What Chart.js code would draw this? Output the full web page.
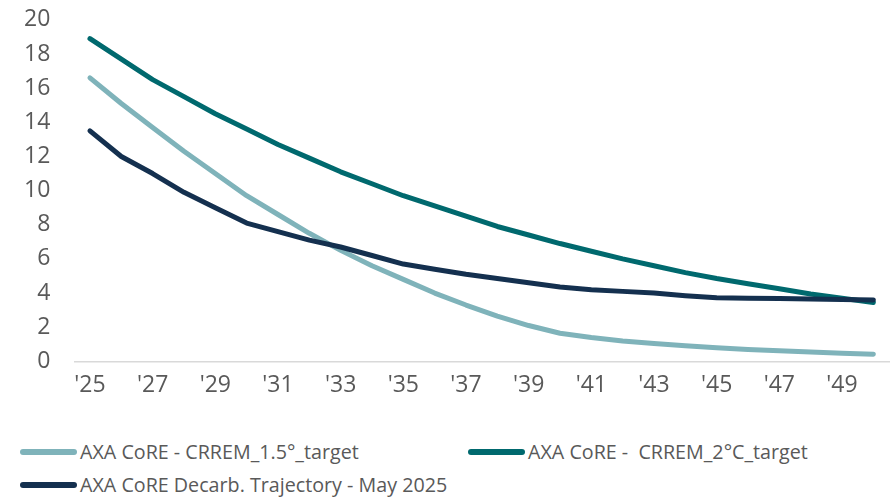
<!DOCTYPE html>
<html>
<head>
<meta charset="utf-8">
<script src="https://cdn.jsdelivr.net/npm/chart.js@4"></script>
<style>
  html, body { margin: 0; padding: 0; background: #fff; }
  #wrap { position: relative; width: 894px; height: 497px; overflow: hidden; }
  #chartBox { position: absolute; left: 0; top: -18px; width: 894px; height: 427px; }
  .leg { position: absolute; height: 28px; white-space: pre; }
  .leg i { position: absolute; left: 0; top: 11px; width: 57px; height: 6px; border-radius: 3px; }
  .leg span { position: absolute; left: 60px; top: 0; font: 19.7px "Open Sans", sans-serif; color: #595959;
              line-height: 28px; white-space: pre; }
</style>
</head>
<body>
<div id="wrap">
  <div id="chartBox"><canvas id="myChart"></canvas></div>
  <div id="legend"></div>
</div>
<script>
const years = ["'25","'26","'27","'28","'29","'30","'31","'32","'33","'34","'35","'36","'37","'38","'39","'40","'41","'42","'43","'44","'45","'46","'47","'48","'49","'50"];

const crrem15 = [16.6, 15.1, 13.7, 12.3, 11.0, 9.7, 8.6, 7.5, 6.5, 5.6, 4.8, 4.0, 3.3, 2.65, 2.1, 1.65, 1.4, 1.2, 1.05, 0.92, 0.8, 0.7, 0.62, 0.55, 0.48, 0.42];
const crrem2 = [18.9, 17.7, 16.5, 15.5, 14.5, 13.6, 12.7, 11.9, 11.1, 10.4, 9.7, 9.1, 8.5, 7.9, 7.4, 6.9, 6.45, 6.0, 5.6, 5.2, 4.85, 4.55, 4.25, 3.95, 3.7, 3.45];
const decarb = [13.5, 12.0, 11.0, 9.9, 9.0, 8.1, 7.6, 7.1, 6.7, 6.2, 5.7, 5.4, 5.1, 4.85, 4.6, 4.35, 4.2, 4.1, 4.0, 3.85, 3.72, 3.7, 3.68, 3.66, 3.63, 3.6];

const names = ['AXA CoRE - CRREM_1.5°_target', 'AXA CoRE -  CRREM_2°C_target', 'AXA CoRE Decarb. Trajectory - May 2025'];
const colors = ['#7FB3BA', '#00696E', '#14304F'];

const ctx = document.getElementById('myChart');

function line(label, data, color, order) {
  return {
    label: label,
    data: data,
    borderColor: color,
    backgroundColor: color,
    borderWidth: 5,
    borderCapStyle: 'round',
    borderJoinStyle: 'round',
    pointRadius: 0,
    tension: 0,
    fill: false,
    order: order
  };
}

new Chart(ctx, {
  type: 'line',
  data: {
    labels: years,
    datasets: [
      line(names[0], crrem15, colors[0], 2),
      line(names[1], crrem2, colors[1], 1),
      line(names[2], decarb, colors[2], 0)
    ]
  },
  options: {
    responsive: true,
    maintainAspectRatio: false,
    animation: false,
    layout: { padding: { top: 0, left: 0, right: 5, bottom: 0 } },
    scales: {
      x: {
        offset: true,
        grid: { display: false, drawTicks: false },
        border: { display: true, color: '#D9D9D9', width: 1.5 },
        ticks: {
          autoSkip: false,
          maxRotation: 0,
          padding: 10,
          color: '#595959',
          font: { family: 'Open Sans', size: 23 },
          callback: function (v, i) { return i % 2 === 0 ? years[i] : ''; }
        }
      },
      y: {
        min: 0,
        max: 20,
        grid: { display: false, drawTicks: false },
        border: { display: false },
        ticks: {
          stepSize: 2,
          padding: 24,
          color: '#595959',
          font: { family: 'Open Sans', size: 23 }
        }
      }
    },
    plugins: {
      legend: { display: false },
      tooltip: { enabled: false }
    }
  }
});

// legend below the chart
const legPos = [[20, 438], [468, 438], [20, 471]];
const legend = document.getElementById('legend');
names.forEach(function (n, i) {
  const d = document.createElement('div');
  d.className = 'leg';
  d.style.left = legPos[i][0] + 'px';
  d.style.top = legPos[i][1] + 'px';
  d.innerHTML = '<i style="background:' + colors[i] + '"></i><span></span>';
  d.querySelector('span').textContent = n;
  legend.appendChild(d);
});
</script>
</body>
</html>
